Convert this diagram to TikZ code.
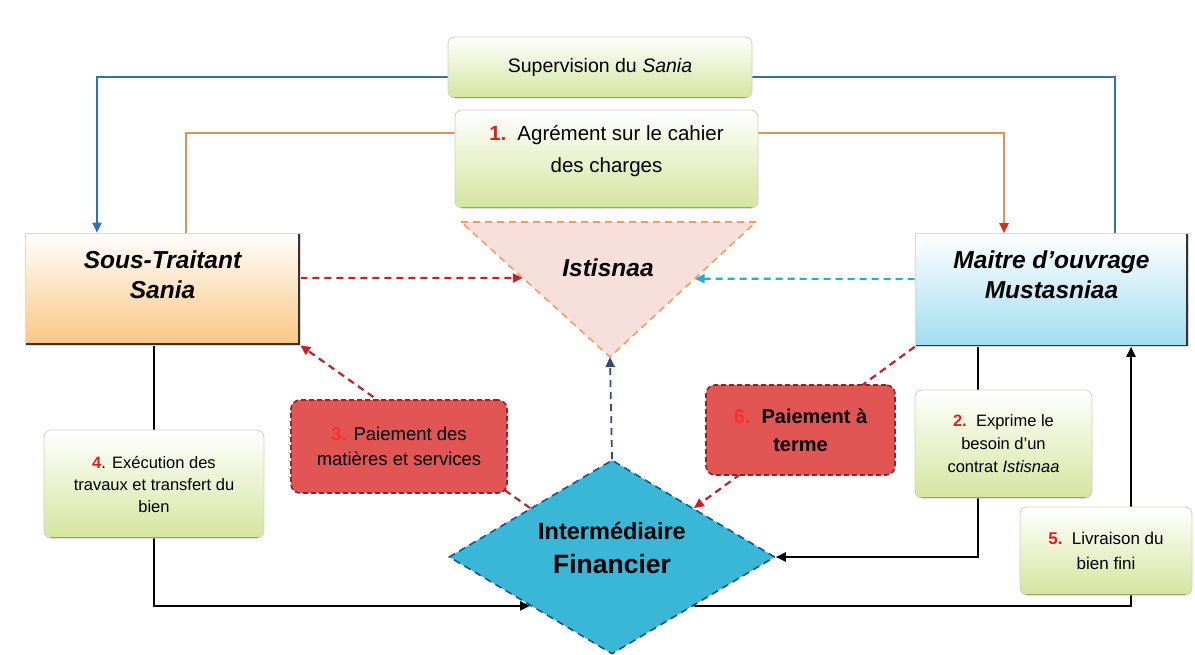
\documentclass[tikz,border=0pt]{standalone}
\usepackage{fontspec}
\setmainfont{Liberation Sans}
\usetikzlibrary{arrows.meta,shapes.geometric,calc,backgrounds}

\definecolor{numred}{RGB}{225,30,30}
\definecolor{numlight}{RGB}{255,45,35}
\definecolor{bluel}{RGB}{45,115,180}
\definecolor{orl}{RGB}{228,145,85}
\definecolor{arrred}{RGB}{220,45,25}
\definecolor{rdash}{RGB}{195,35,40}
\definecolor{cyandash}{RGB}{40,170,225}
\definecolor{navydash}{RGB}{50,75,115}
\definecolor{greenbot}{RGB}{212,229,158}
\definecolor{greenedge}{RGB}{120,145,70}
\definecolor{boxgray}{RGB}{205,210,195}
\definecolor{redfill}{RGB}{226,85,85}
\definecolor{redborder}{RGB}{145,35,35}
\definecolor{finfill}{RGB}{58,182,214}
\definecolor{finborder}{RGB}{25,85,140}
\definecolor{trifill}{RGB}{247,224,220}
\definecolor{triborder}{RGB}{240,160,100}
\definecolor{orbot}{RGB}{250,198,130}
\definecolor{bluebot}{RGB}{160,220,240}

\newcommand\fsz[2]{\fontsize{#1}{#2}\selectfont}

\begin{document}
\begin{tikzpicture}[x=1pt,y=-1pt,
  tip/.style={-{Triangle[length=10pt,width=9pt]}},
  greenbox/.style={draw=boxgray, line width=0.8pt, rounded corners=7pt,
    top color=white, bottom color=greenbot, align=center, inner sep=0pt,
    path picture={\draw[greenedge, line width=3pt]
      (path picture bounding box.south west) -- (path picture bounding box.south east);}},
  partybox/.style={draw=gray!30, line width=0.6pt, top color=white,
    inner sep=0pt,
    path picture={\draw[black!80, line width=4pt]
      (path picture bounding box.north east) -- (path picture bounding box.south east)
      -- (path picture bounding box.south west);}},
  partytext/.style={align=center, font=\fsz{24.5}{30}\bfseries\itshape},
  redbox/.style={draw=redborder, dash pattern=on 5pt off 3pt, line width=1.6pt,
    fill=redfill, rounded corners=9pt, align=center, inner sep=0pt},
  bluelink/.style={draw=bluel, line width=1.8pt},
  orlink/.style={draw=orl, line width=1.8pt},
  blklink/.style={draw=black, line width=2pt},
  rdlink/.style={draw=rdash, line width=2.2pt, dash pattern=on 7pt off 5pt},
]
\useasboundingbox (0,0) rectangle (1195,654);

% triangle of the contract
\coordinate (tri-nw) at (461,222);
\coordinate (tri-ne) at (756,222);
\coordinate (tri-s) at (610,357);
\draw[fill=trifill, draw=triborder, line width=1.6pt, dash pattern=on 7pt off 5pt]
  (tri-nw) -- (tri-ne) -- (tri-s) -- cycle;
\node[font=\fsz{24.5}{28}\bfseries\itshape] (ist) at (608,268) {Istisnaa};
\coordinate (tri-w) at ($(tri-nw)!0.415!(tri-s)$);
\coordinate (tri-e) at ($(tri-ne)!0.42!(tri-s)$);

% green boxes
\node[greenbox, minimum width=304pt, minimum height=61pt, font=\fsz{19.5}{23}]
  (sup) at (600,67.5) {Supervision du \textit{Sania}};
\node[greenbox, minimum width=303pt, minimum height=98pt,
  label={[name=agr-t, align=center, font=\fsz{20.5}{32}, yshift=8pt]center:%
    {\textcolor{numred}{\textbf{1.}}\, Agrément sur le cahier\\des charges}}]
  (agr) at (606.5,159) {};
\node[greenbox, minimum width=220pt, minimum height=108pt, font=\fsz{16.5}{22}]
  (b4) at (154,484) {\textcolor{numred}{\textbf{4}}. Exécution des\\travaux et transfert du\\bien};
\node[greenbox, minimum width=177pt, minimum height=108pt, font=\fsz{16.5}{23}]
  (b2) at (1003.5,444) {\textcolor{numred}{\textbf{2.}}\ \ Exprime le\\besoin d’un\\contrat \textit{Istisnaa}};
\node[greenbox, minimum width=172pt, minimum height=88pt, font=\fsz{17}{25}]
  (b5) at (1106,551) {\textcolor{numred}{\textbf{5.}}\ \ Livraison du\\bien fini};

% parties
\node[partybox, bottom color=orbot, minimum width=275pt, minimum height=112pt,
  label={[name=sous-t, partytext, yshift=14pt]center:{Sous-Traitant\\Sania}}]
  (sous) at (162.5,289) {};
\node[partybox, bottom color=bluebot, minimum width=273pt, minimum height=113pt,
  label={[name=maitre-t, partytext, yshift=15pt]center:{Maitre d’ouvrage\\Mustasniaa}}]
  (maitre) at (1051.5,290) {};

% payments
\node[redbox, minimum width=216pt, minimum height=93pt, font=\fsz{18.5}{25}]
  (b3) at (399,446.5) {\textcolor{numlight}{\textbf{3.}} Paiement des\\matières et services};
\node[redbox, minimum width=189pt, minimum height=90pt, font=\fsz{20}{28}\bfseries]
  (b6) at (800.5,430) {\textcolor{numlight}{6.}\ \ Paiement à\\terme};

% financial intermediary
\node[diamond, draw=finborder, fill=finfill, line width=1.6pt, dash pattern=on 7pt off 5pt,
  minimum width=326pt, minimum height=194pt, inner sep=0pt,
  label={[name=fin-t, align=center, font=\fsz{23.5}{34}\bfseries, yshift=9pt]center:%
    {Intermédiaire\\\fontsize{26.5}{34}\selectfont Financier}}]
  (fin) at (612,557) {};

% x positions of the vertical runs
\coordinate (xb1) at (97,0);
\coordinate (xb2) at (1115,0);
\coordinate (xo1) at (186,0);
\coordinate (xo2) at (1004,0);
\coordinate (xk2) at (978,0);
\coordinate (xk3) at (1131,0);

\begin{scope}[on background layer]
  \fill[white] (0,0) rectangle (1195,654);
  % supervision
  \draw[bluelink] (maitre.north -| xb2) |- ([yshift=-9.5pt]sup.east);
  \draw[bluelink, tip] ([yshift=-9.5pt]sup.west) -| (sous.north -| xb1);
  % agreement on the specifications
  \draw[orlink] (sous.north -| xo1) |- ([yshift=26pt]agr.west);
  \draw[orlink, -{Triangle[length=10pt,width=9pt,color=arrred]}]
    ([yshift=26pt]agr.east) -| (maitre.north -| xo2);
  % parties to the contract
  \draw[rdlink, tip] ([yshift=11pt]sous.east) -- (tri-w);
  \draw[draw=cyandash, line width=2.2pt, dash pattern=on 7pt off 5pt, tip]
    ([yshift=11pt]maitre.west) -- (tri-e);
  \draw[draw=navydash, line width=1.8pt, dash pattern=on 7pt off 5pt, tip]
    (fin.north) -- (tri-s);
  % payments
  \draw[rdlink, tip] (fin.north west) -- (sous.south east);
  \draw[rdlink, tip] (maitre.south west) -- (fin.north east);
  % works and delivery
  \draw[blklink] (sous.south -| b4.north) -- (b4.north);
  \draw[blklink, tip] (b4.south) |- (fin.south west);
  \draw[blklink] (maitre.south -| xk2) -- (b2.north -| xk2);
  \draw[blklink, tip] (b2.south -| xk2) |- (fin.east);
  \draw[blklink] (fin.south east) -| (b5.south -| xk3);
  \draw[blklink, tip] (b5.north -| xk3) -- (maitre.south -| xk3);
\end{scope}
\end{tikzpicture}
\end{document}
